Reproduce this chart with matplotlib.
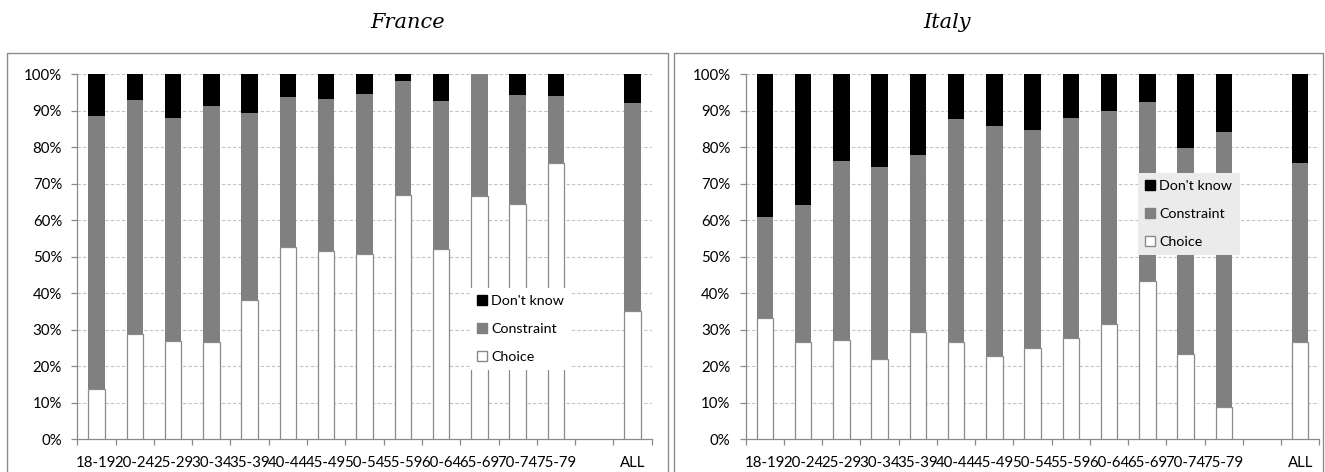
import numpy as np
import matplotlib
matplotlib.use("Agg")
import matplotlib.pyplot as plt
from matplotlib.patches import Patch, Rectangle

plt.rcParams['font.family'] = ['Lato', 'DejaVu Sans']

# age groups (one empty slot before ALL)
groups = ['18-19', '20-24', '25-29', '30-34', '35-39', '40-44', '45-49',
          '50-54', '55-59', '60-64', '65-69', '70-74', '75-79', '', 'ALL']

# France, % of respondents
fr_choice = [13.9, 28.9, 26.9, 26.7, 38.2, 52.7, 51.5, 50.8, 66.9, 52.2, 66.7, 64.4, 75.5, 35.2]
fr_constraint = [74.6, 64.1, 61.1, 64.6, 51.1, 41.1, 41.7, 43.7, 31.3, 40.5, 33.3, 29.8, 18.6, 56.8]
fr_dontknow = [11.5, 7.0, 12.0, 8.7, 10.7, 6.2, 6.8, 5.5, 1.8, 7.3, 0.0, 5.8, 5.9, 8.0]

# Italy, % of respondents
it_choice = [33.1, 26.5, 27.2, 22.1, 29.5, 26.6, 22.7, 25.1, 27.8, 31.6, 43.4, 23.3, 8.9, 26.6]
it_constraint = [27.7, 37.6, 48.9, 52.5, 48.4, 61.0, 63.2, 59.6, 60.1, 58.3, 48.8, 56.5, 75.2, 48.9]
it_dontknow = [39.2, 35.9, 23.9, 25.4, 22.1, 12.4, 14.1, 15.3, 12.1, 10.1, 7.8, 20.2, 15.9, 24.5]

W, H = 1325, 472
fig = plt.figure(figsize=(W / 100, H / 100), dpi=100)

EDGE = '#8a8a8a'
GREY = '#808080'
FS = 10.8


def px_axes(x0, x1, y0, y1):
    # axes placed in pixel coordinates (y measured from top)
    return fig.add_axes([x0 / W, 1 - y1 / H, (x1 - x0) / W, (y1 - y0) / H])


def draw_panel(ax, choice, constraint, dontknow):
    # bar positions: skip the empty slot before ALL
    pos = [i for i in range(len(groups)) if groups[i] != '']
    choice = np.array(choice)
    constraint = np.array(constraint)
    dontknow = np.array(dontknow)
    bw = 0.43
    ax.bar(pos, choice, width=bw, color='white', edgecolor=EDGE, linewidth=0.9, zorder=3)
    ax.bar(pos, constraint, bottom=choice, width=bw, color=GREY, linewidth=0, zorder=3)
    ax.bar(pos, dontknow, bottom=choice + constraint, width=bw, color='black',
           linewidth=0, zorder=3)

    ax.set_xlim(-0.5, len(groups) - 0.5)
    ax.set_ylim(0, 100)
    ax.set_yticks(np.arange(0, 101, 10))
    ax.set_yticklabels([f'{v}%' for v in range(0, 101, 10)], fontsize=FS)
    ax.set_xticks(range(len(groups)))
    ax.set_xticklabels(groups, fontsize=FS)
    # tick marks sit on the category boundaries
    ax.set_xticks(np.arange(-0.5, len(groups), 1), minor=True)
    ax.tick_params(axis='x', which='major', length=0, pad=12)
    ax.tick_params(axis='x', which='minor', length=4, color=EDGE, width=0.9, direction='out')
    ax.tick_params(axis='y', length=4, color=EDGE, width=0.9, pad=7)

    for v in range(10, 101, 10):
        ax.axhline(v, color='#c4c4c4', linestyle=(0, (3, 2)), linewidth=0.8, zorder=1)

    for s in ['top', 'right']:
        ax.spines[s].set_visible(False)
    for s in ['left', 'bottom']:
        ax.spines[s].set_color(EDGE)
        ax.spines[s].set_linewidth(0.9)
    ax.set_facecolor('none')


def add_legend(ax, x, y, face):
    handles = [Patch(facecolor='black', edgecolor='black'),
               Patch(facecolor=GREY, edgecolor=GREY),
               Patch(facecolor='white', edgecolor=EDGE)]
    leg = ax.legend(handles, ["Don't know", 'Constraint', 'Choice'],
                    loc='upper left', bbox_to_anchor=(x / W, 1 - y / H),
                    bbox_transform=fig.transFigure, fontsize=10.3,
                    frameon=True, facecolor=face, edgecolor='none', framealpha=1,
                    fancybox=False, borderaxespad=0, borderpad=0.5,
                    handlelength=0.7, handleheight=0.7, handletextpad=0.3,
                    labelspacing=1.1)
    leg.set_zorder(5)
    leg.get_frame().set_linewidth(0)


# outer chart frames
for x0, x1 in [(7, 668), (674, 1323)]:
    fig.patches.append(Rectangle((x0 / W, -0.05), (x1 - x0) / W, 1 - 52.7 / H + 0.05,
                                 transform=fig.transFigure, fill=False,
                                 edgecolor='#8c8c8c', linewidth=1.0))

ax_fr = px_axes(77.3, 651.7, 74, 439.3)
draw_panel(ax_fr, fr_choice, fr_constraint, fr_dontknow)
add_legend(ax_fr, 470, 288, 'white')

ax_it = px_axes(745.7, 1319.4, 74, 439.3)
draw_panel(ax_it, it_choice, it_constraint, it_dontknow)
add_legend(ax_it, 1138, 173, '#ebebeb')

title_kw = dict(fontsize=15, style='italic', family=['DejaVu Serif'], ha='center', va='center')
fig.text(408 / W, 1 - 22 / H, 'France', **title_kw)
fig.text(947 / W, 1 - 22 / H, 'Italy', **title_kw)

fig.savefig('out.png', dpi=100)
